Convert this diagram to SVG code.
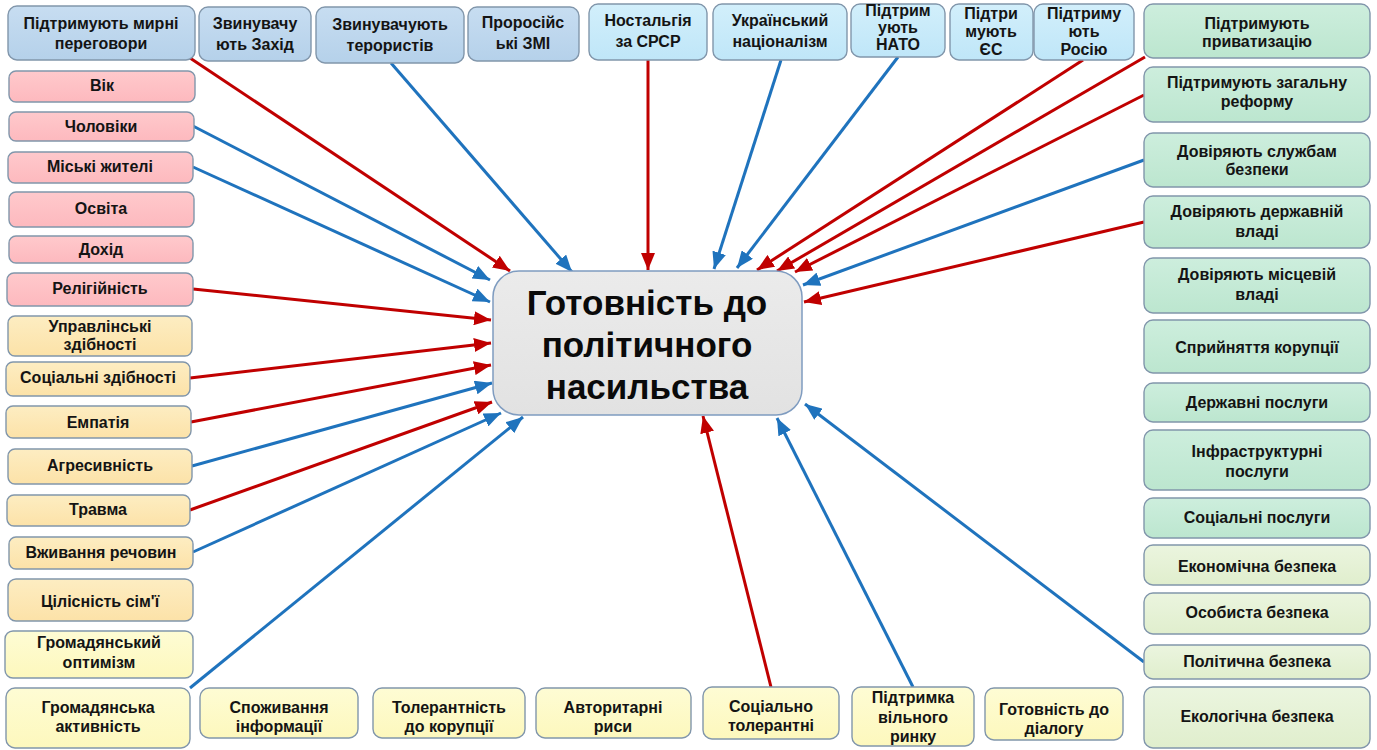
<svg xmlns="http://www.w3.org/2000/svg" width="1377" height="750" viewBox="0 0 1377 750">
<defs>
<style>
.n rect{stroke:#8196ab;stroke-width:1.4}
.t{font-family:"Liberation Sans",Arial,sans-serif;font-weight:bold;font-size:16px;text-anchor:middle;fill:#141414}
.big{font-family:"Liberation Sans",Arial,sans-serif;font-weight:bold;font-size:35px;text-anchor:middle;fill:#0a0a0a}
.b1 rect{fill:url(#gB1)}
.b2 rect{fill:url(#gB2)}
.pk rect{fill:url(#gPk)}
.bg rect{fill:url(#gBg)}
.yl rect{fill:url(#gYl)}
.gr rect{fill:url(#gGr)}
.lg rect{fill:url(#gLg)}
.red{stroke:#c00000;stroke-width:3;fill:none;marker-end:url(#aR)}
.blu{stroke:#1f73bd;stroke-width:3;fill:none;marker-end:url(#aB)}
</style>
<linearGradient id="gB1" x1="0" y1="0" x2="0" y2="1"><stop offset="0" stop-color="#c7ddf1"/><stop offset="1" stop-color="#b5d1ea"/></linearGradient>
<linearGradient id="gB2" x1="0" y1="0" x2="0" y2="1"><stop offset="0" stop-color="#d2effb"/><stop offset="1" stop-color="#bfe6f8"/></linearGradient>
<linearGradient id="gPk" x1="0" y1="0" x2="0" y2="1"><stop offset="0" stop-color="#ffc9cc"/><stop offset="1" stop-color="#fdb9be"/></linearGradient>
<linearGradient id="gBg" x1="0" y1="0" x2="0" y2="1"><stop offset="0" stop-color="#fdedc2"/><stop offset="1" stop-color="#fce2a8"/></linearGradient>
<linearGradient id="gYl" x1="0" y1="0" x2="0" y2="1"><stop offset="0" stop-color="#fefcd4"/><stop offset="1" stop-color="#fdf8bd"/></linearGradient>
<linearGradient id="gGr" x1="0" y1="0" x2="0" y2="1"><stop offset="0" stop-color="#cdeedd"/><stop offset="1" stop-color="#bce6cf"/></linearGradient>
<linearGradient id="gLg" x1="0" y1="0" x2="0" y2="1"><stop offset="0" stop-color="#ebf5df"/><stop offset="1" stop-color="#e0eecd"/></linearGradient>
<linearGradient id="gC" x1="0" y1="0" x2="0" y2="1"><stop offset="0" stop-color="#ebebeb"/><stop offset="1" stop-color="#e2e2e2"/></linearGradient>
<marker id="aR" markerUnits="userSpaceOnUse" markerWidth="18" markerHeight="14" refX="17" refY="7" orient="auto"><path d="M0,0 L17,7 L0,14 z" fill="#c00000"/></marker>
<marker id="aB" markerUnits="userSpaceOnUse" markerWidth="18" markerHeight="14" refX="17" refY="7" orient="auto"><path d="M0,0 L17,7 L0,14 z" fill="#1f73bd"/></marker>
</defs>
<rect width="1377" height="750" fill="#ffffff"/>

<g id="connectors">
<line class="red" x1="190" y1="58" x2="510" y2="271"/>
<line class="blu" x1="391" y1="63" x2="572" y2="272"/>
<line class="red" x1="648" y1="60" x2="648" y2="270"/>
<line class="blu" x1="781" y1="60" x2="714" y2="269"/>
<line class="blu" x1="898" y1="57" x2="737" y2="268"/>
<line class="red" x1="1083" y1="60" x2="757" y2="270"/>
<line class="red" x1="1145" y1="57" x2="777" y2="271"/>
<line class="red" x1="1144" y1="95" x2="795" y2="272"/>
<line class="blu" x1="1144" y1="160" x2="803" y2="285"/>
<line class="red" x1="1144" y1="222" x2="804" y2="302"/>
<line class="blu" x1="1144" y1="662" x2="805" y2="404"/>
<line class="blu" x1="913" y1="687" x2="777" y2="418"/>
<line class="red" x1="771" y1="687" x2="703" y2="416"/>
<line class="blu" x1="190" y1="688" x2="523" y2="417"/>
<line class="blu" x1="193" y1="126" x2="490" y2="280"/>
<line class="blu" x1="193" y1="167" x2="490" y2="302"/>
<line class="red" x1="193" y1="289" x2="491" y2="320"/>
<line class="red" x1="190" y1="378" x2="491" y2="343"/>
<line class="red" x1="191" y1="422" x2="491" y2="365"/>
<line class="blu" x1="192" y1="466" x2="492" y2="383"/>
<line class="red" x1="190" y1="510" x2="492" y2="402"/>
<line class="blu" x1="193" y1="552" x2="501" y2="413"/>
</g>

<g id="center">
<rect x="493" y="271" width="309" height="144" rx="26" fill="url(#gC)" stroke="#7f9cc0" stroke-width="1.5"/>
<text class="big" x="647" y="315">Готовність до</text>
<text class="big" x="647" y="357">політичного</text>
<text class="big" x="647" y="399">насильства</text>
</g>

<!-- top row -->
<g id="n-peace" class="n b1"><rect x="8" y="6" width="187" height="54" rx="9"/><text class="t" x="101" y="29">Підтримують мирні</text><text class="t" x="101" y="49">переговори</text></g>
<g id="n-west" class="n b1"><rect x="199" y="7" width="112" height="54" rx="9"/><text class="t" x="255" y="29">Звинувачу</text><text class="t" x="255" y="50">ють Захід</text></g>
<g id="n-terror" class="n b1"><rect x="316" y="7" width="148" height="56" rx="9"/><text class="t" x="390" y="30">Звинувачують</text><text class="t" x="390" y="51">терористів</text></g>
<g id="n-media" class="n b1"><rect x="468" y="7" width="111" height="54" rx="9"/><text class="t" x="523" y="28">Проросійс</text><text class="t" x="523" y="49">ькі ЗМІ</text></g>
<g id="n-ussr" class="n b2"><rect x="589" y="4" width="118" height="56" rx="9"/><text class="t" x="648" y="26">Ностальгія</text><text class="t" x="648" y="47">за СРСР</text></g>
<g id="n-nation" class="n b2"><rect x="713" y="4" width="134" height="56" rx="9"/><text class="t" x="780" y="26">Український</text><text class="t" x="780" y="47">націоналізм</text></g>
<g id="n-nato" class="n b2"><rect x="851" y="4" width="94" height="53" rx="9"/><text class="t" x="898" y="16">Підтрим</text><text class="t" x="898" y="33">ують</text><text class="t" x="898" y="50">НАТО</text></g>
<g id="n-eu" class="n b2"><rect x="950" y="4" width="83" height="56" rx="9"/><text class="t" x="991" y="19">Підтри</text><text class="t" x="991" y="37">мують</text><text class="t" x="991" y="55">ЄС</text></g>
<g id="n-russia" class="n b2"><rect x="1034" y="4" width="100" height="56" rx="9"/><text class="t" x="1084" y="19">Підтриму</text><text class="t" x="1084" y="37">ють</text><text class="t" x="1084" y="55">Росію</text></g>

<!-- right column -->
<g id="r-priv" class="n gr"><rect x="1144" y="4" width="226" height="54" rx="9"/><text class="t" x="1257" y="29">Підтримують</text><text class="t" x="1257" y="47">приватизацію</text></g>
<g id="r-reform" class="n gr"><rect x="1144" y="67" width="226" height="55" rx="9"/><text class="t" x="1257" y="88">Підтримують загальну</text><text class="t" x="1257" y="107">реформу</text></g>
<g id="r-sec" class="n gr"><rect x="1144" y="133" width="226" height="54" rx="9"/><text class="t" x="1257" y="157">Довіряють службам</text><text class="t" x="1257" y="175">безпеки</text></g>
<g id="r-state" class="n gr"><rect x="1144" y="196" width="226" height="52" rx="9"/><text class="t" x="1257" y="217">Довіряють державній</text><text class="t" x="1257" y="237">владі</text></g>
<g id="r-local" class="n gr"><rect x="1144" y="258" width="226" height="55" rx="9"/><text class="t" x="1257" y="280">Довіряють місцевій</text><text class="t" x="1257" y="300">владі</text></g>
<g id="r-corr" class="n gr"><rect x="1144" y="320" width="226" height="53" rx="9"/><text class="t" x="1257" y="353">Сприйняття корупції</text></g>
<g id="r-gov" class="n gr"><rect x="1144" y="383" width="226" height="39" rx="9"/><text class="t" x="1257" y="408">Державні послуги</text></g>
<g id="r-infra" class="n gr"><rect x="1144" y="430" width="226" height="60" rx="9"/><text class="t" x="1257" y="457">Інфраструктурні</text><text class="t" x="1257" y="477">послуги</text></g>
<g id="r-social" class="n gr"><rect x="1144" y="498" width="226" height="40" rx="9"/><text class="t" x="1257" y="523">Соціальні послуги</text></g>
<g id="r-econ" class="n lg"><rect x="1144" y="545" width="226" height="40" rx="9"/><text class="t" x="1257" y="572">Економічна безпека</text></g>
<g id="r-pers" class="n lg"><rect x="1144" y="593" width="226" height="41" rx="9"/><text class="t" x="1257" y="618">Особиста безпека</text></g>
<g id="r-pol" class="n lg"><rect x="1144" y="645" width="226" height="34" rx="9"/><text class="t" x="1257" y="667">Політична безпека</text></g>
<g id="r-eco" class="n lg"><rect x="1144" y="687" width="226" height="61" rx="9"/><text class="t" x="1257" y="722">Екологічна безпека</text></g>

<!-- left column -->
<g id="l-age" class="n pk"><rect x="9" y="71" width="186" height="31" rx="7"/><text class="t" x="102" y="91">Вік</text></g>
<g id="l-men" class="n pk"><rect x="9" y="112" width="185" height="29" rx="7"/><text class="t" x="101" y="132">Чоловіки</text></g>
<g id="l-urban" class="n pk"><rect x="8" y="152" width="185" height="31" rx="7"/><text class="t" x="100" y="172">Міські жителі</text></g>
<g id="l-edu" class="n pk"><rect x="9" y="192" width="185" height="35" rx="7"/><text class="t" x="101" y="214">Освіта</text></g>
<g id="l-income" class="n pk"><rect x="9" y="236" width="184" height="27" rx="7"/><text class="t" x="101" y="255">Дохід</text></g>
<g id="l-relig" class="n pk"><rect x="7" y="273" width="186" height="33" rx="7"/><text class="t" x="100" y="294">Релігійність</text></g>
<g id="l-manag" class="n bg"><rect x="8" y="316" width="184" height="40" rx="7"/><text class="t" x="100" y="332">Управлінські</text><text class="t" x="100" y="350">здібності</text></g>
<g id="l-socsk" class="n bg"><rect x="6" y="362" width="184" height="34" rx="7"/><text class="t" x="98" y="383">Соціальні здібності</text></g>
<g id="l-emp" class="n bg"><rect x="6" y="406" width="185" height="32" rx="7"/><text class="t" x="98" y="428">Емпатія</text></g>
<g id="l-aggr" class="n bg"><rect x="8" y="449" width="184" height="35" rx="7"/><text class="t" x="100" y="471">Агресивність</text></g>
<g id="l-trauma" class="n bg"><rect x="7" y="495" width="183" height="31" rx="7"/><text class="t" x="98" y="515">Травма</text></g>
<g id="l-subst" class="n bg"><rect x="9" y="537" width="184" height="32" rx="7"/><text class="t" x="101" y="558">Вживання речовин</text></g>
<g id="l-family" class="n bg"><rect x="8" y="579" width="185" height="42" rx="8"/><text class="t" x="100" y="607">Цілісність сім'ї</text></g>
<g id="l-optim" class="n yl"><rect x="5" y="631" width="188" height="47" rx="8"/><text class="t" x="99" y="648">Громадянський</text><text class="t" x="99" y="668">оптимізм</text></g>
<g id="l-activ" class="n yl"><rect x="6" y="688" width="184" height="60" rx="9"/><text class="t" x="98" y="713">Громадянська</text><text class="t" x="98" y="732">активність</text></g>

<!-- bottom row -->
<g id="b-info" class="n yl"><rect x="200" y="688" width="158" height="50" rx="9"/><text class="t" x="279" y="713">Споживання</text><text class="t" x="279" y="732">інформації</text></g>
<g id="b-tolcorr" class="n yl"><rect x="373" y="688" width="152" height="50" rx="9"/><text class="t" x="449" y="713">Толерантність</text><text class="t" x="449" y="732">до корупції</text></g>
<g id="b-auth" class="n yl"><rect x="536" y="688" width="155" height="50" rx="9"/><text class="t" x="613" y="713">Авторитарні</text><text class="t" x="613" y="732">риси</text></g>
<g id="b-soctol" class="n yl"><rect x="703" y="687" width="136" height="52" rx="9"/><text class="t" x="771" y="712">Соціально</text><text class="t" x="771" y="731">толерантні</text></g>
<g id="b-market" class="n yl"><rect x="852" y="687" width="122" height="59" rx="9"/><text class="t" x="913" y="703">Підтримка</text><text class="t" x="913" y="723">вільного</text><text class="t" x="913" y="742">ринку</text></g>
<g id="b-dialog" class="n yl"><rect x="985" y="688" width="138" height="52" rx="9"/><text class="t" x="1054" y="715">Готовність до</text><text class="t" x="1054" y="734">діалогу</text></g>
</svg>
